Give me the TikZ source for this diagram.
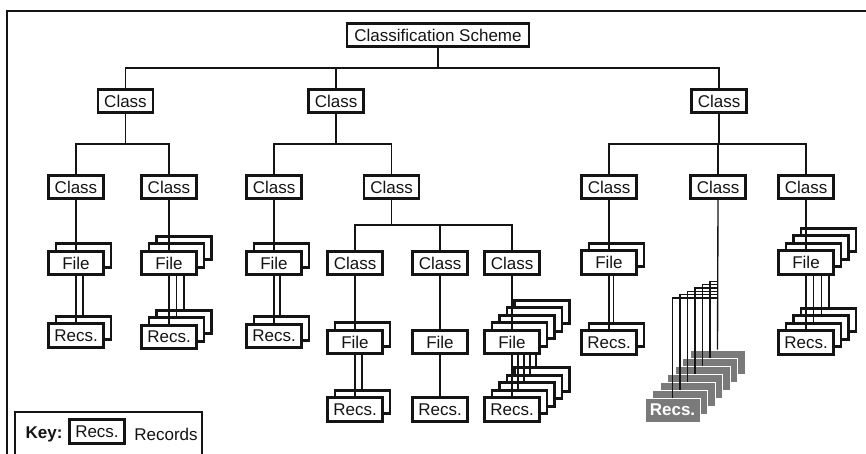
\documentclass[tikz,border=0pt]{standalone}
\usepackage{fontspec}
\setmainfont{Liberation Sans}
\definecolor{recgray}{RGB}{122,122,122}
\definecolor{ink}{RGB}{20,20,20}
\tikzset{
  box/.style={draw=ink, line width=2.8pt, fill=white, minimum width=55pt, minimum height=23.5pt,
    inner sep=0pt, text=ink, font=\fontsize{17}{17}\selectfont},
  conn/.style={draw=ink, line width=1.35pt},
  grec/.style={draw=white, line width=0.9pt, fill=recgray, minimum width=55pt, minimum height=24pt,
    inner sep=0pt, text=white, font=\fontsize{17}{17}\selectfont\bfseries},
}
% id, x, y of file, y of recs, copies, line spacing, parent node
\newcommand{\mystack}[7]{%
  \pgfmathtruncatemacro{\mylast}{#5-1}%
  \foreach \i in {\mylast,...,0}{%
    \node[box] (#1f\i) at ({#2+7.5*\i},{#3-7.5*\i}) {\ifnum\i=0 File\fi};
    \node[box] (#1r\i) at ({#2+7.5*\i},{#4-7.5*\i}) {\ifnum\i=0 Recs.\fi};
    \draw[conn] ([xshift={(#6-7.5)*\i}]#1f\i.south) -- ([xshift={(#6-7.5)*\i}]#1r\i.north);
  }%
  \draw[conn] (#7.south) -- (#1f0.north);
}
\begin{document}
\begin{tikzpicture}[x=1pt,y=-1pt]
\useasboundingbox (0,0) rectangle (866,453);
\clip (0,0) rectangle (866,453);
\fill[white] (0,0) rectangle (866,453);
% frame
\draw[ink, line width=1.8pt] (7,470) -- (7,11) -- (880,11);
% buses
\coordinate (bus1) at (0,68);
\coordinate (bus2) at (0,144);
\coordinate (bus3) at (0,225);
% top
\node[box, minimum width=182pt] (cs) at (438,35) {Classification Scheme};
% level 1
\node[box] (c1) at (125.5,101) {Class};
\node[box] (c2) at (336,101) {Class};
\node[box] (c3) at (719,101) {Class};
\foreach \c in {c1,c2,c3}{\draw[conn] (cs.south) -- (cs.south |- bus1) -| (\c.north);}
% level 2
\node[box] (c11) at (76,187) {Class};
\node[box] (c12) at (169,187) {Class};
\node[box] (c21) at (274,187) {Class};
\node[box] (c22) at (391.5,187) {Class};
\node[box] (c31) at (609,187) {Class};
\node[box] (c32) at (718,187) {Class};
\node[box] (c33) at (806,187) {Class};
\foreach \c in {c11,c12}{\draw[conn] (c1.south) -- (c1.south |- bus2) -| (\c.north);}
\foreach \c in {c21,c22}{\draw[conn] (c2.south) -- (c2.south |- bus2) -| (\c.north);}
\foreach \c in {c31,c32,c33}{\draw[conn] (c3.south) -- (c3.south |- bus2) -| (\c.north);}
% level 3
\node[box] (c221) at (355,263) {Class};
\node[box] (c222) at (440,263) {Class};
\node[box] (c223) at (512,263) {Class};
\foreach \c in {c221,c222,c223}{\draw[conn] (c22.south) -- (c22.south |- bus3) -| (\c.north);}
% file / record stacks
\mystack{sa}{76}{263}{335.5}{2}{7}{c11}
\mystack{sb}{169}{263}{337}{3}{7.5}{c12}
\mystack{sc}{274}{263}{336}{2}{6}{c21}
\mystack{sd}{355}{342}{409.5}{2}{7}{c221}
\mystack{se}{440}{342}{409.5}{1}{7}{c222}
\mystack{sf}{512}{342}{409.5}{5}{6}{c223}
\mystack{sg}{609}{262.5}{342.5}{2}{4.5}{c31}
\mystack{sh}{806}{262.5}{342.5}{4}{7.7}{c33}
% grey records
\node[grec] (g6) at ({672.5+7.5*6},{410-8*6}) {};
\draw[conn] (c32.south) -- (g6.north);
\foreach \i in {5,...,0}{
  \coordinate (gb\i) at (718,{298-3.3*\i});
  \node[grec] (g\i) at ({672.5+7.5*\i},{410-8*\i}) {\ifnum\i=0 Recs.\fi};
  \draw[conn] (g\i.north) |- (gb\i);
}
% key
\draw[ink, line width=1.3pt] (15,412) rectangle (202,470);
\node[text=ink, font=\fontsize{17}{17}\selectfont\bfseries] (keyword) at (44,434) {Key:};
\node[box] (keyrec) at (97,431.5) {Recs.};
\node[text=ink, font=\fontsize{17}{17}\selectfont] (keylbl) at (166,434) {Records};
\end{tikzpicture}
\end{document}
